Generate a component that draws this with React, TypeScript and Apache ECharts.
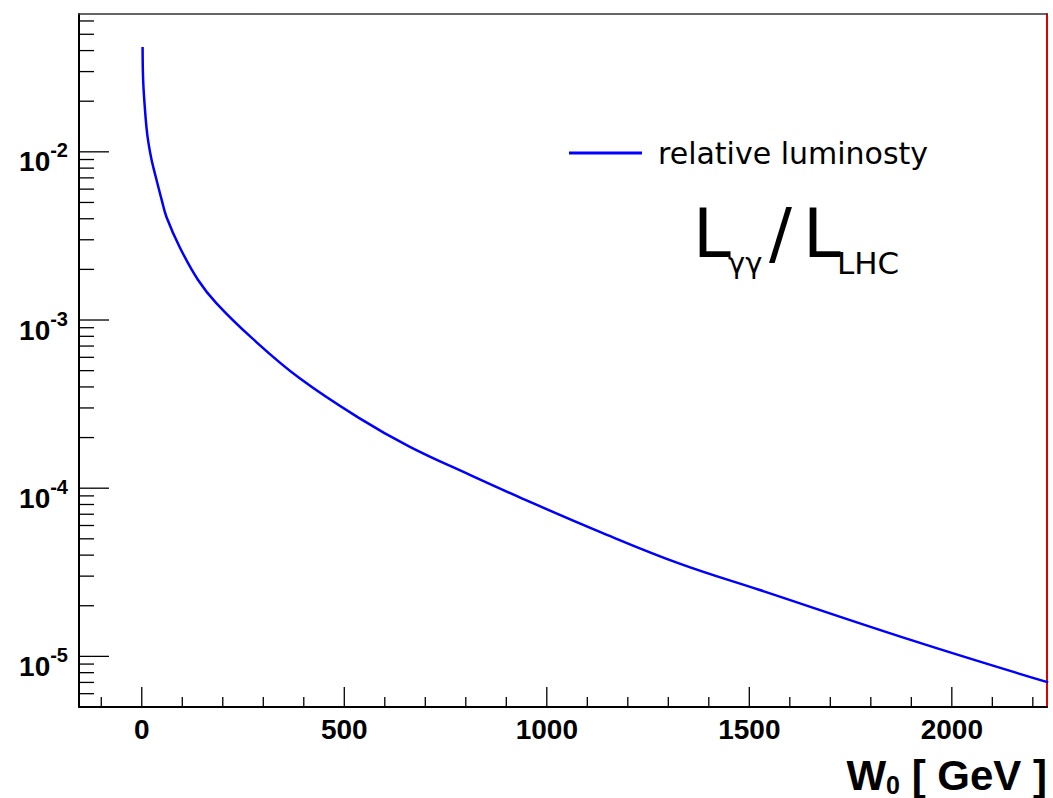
import React, { useEffect, useRef } from 'react';
import * as echarts from 'echarts';

// ---- data ----
const W0 = [2, 3.3, 7.4, 11.6, 16, 24, 32, 49, 61, 94, 139, 184, 271, 390, 538, 662, 810, 941, 1131, 1328, 1526, 1904, 2238];
const LUMI = [4.2e-2, 2.7e-2, 1.85e-2, 1.4e-2, 1.15e-2, 9.0e-3, 7.5e-3, 5.2e-3, 4.1e-3, 2.7e-3, 1.73e-3, 1.26e-3, 7.85e-4, 4.5e-4, 2.6e-4, 1.76e-4, 1.2e-4, 8.65e-5, 5.5e-5, 3.56e-5, 2.48e-5, 1.24e-5, 7.0e-6];
const SERIES_NAME = 'relative luminosty';

const X_MIN = -155;
const X_MAX = 2235;
const Y_MIN = 5e-6;
const Y_MAX = 0.066;

const X_MAJOR = [0, 500, 1000, 1500, 2000];
const X_MINOR = [-100, 100, 200, 300, 400, 600, 700, 800, 900, 1100, 1200, 1300, 1400, 1600, 1700, 1800, 1900, 2100, 2200];
const Y_MAJOR = [1e-5, 1e-4, 1e-3, 1e-2];
const Y_MINOR = [
  6e-6, 7e-6, 8e-6, 9e-6,
  2e-5, 3e-5, 4e-5, 5e-5, 6e-5, 7e-5, 8e-5, 9e-5,
  2e-4, 3e-4, 4e-4, 5e-4, 6e-4, 7e-4, 8e-4, 9e-4,
  2e-3, 3e-3, 4e-3, 5e-3, 6e-3, 7e-3, 8e-3, 9e-3,
  2e-2, 3e-2, 4e-2, 5e-2, 6e-2,
];

const LABEL_FONT = 'Liberation Sans, Arial, Helvetica, sans-serif';
const TEXT_FONT = 'DejaVu Sans, sans-serif';

function tickSeries(values: number[], axis: 'x' | 'y', len: number) {
  return {
    type: 'custom',
    silent: true,
    clip: false,
    z: 5,
    data: values.map((v) => (axis === 'x' ? [v, Y_MIN] : [X_MIN, v])),
    renderItem: (_params: any, api: any) => {
      const p = api.coord([api.value(0), api.value(1)]);
      const shape =
        axis === 'x'
          ? { x1: p[0], y1: p[1], x2: p[0], y2: p[1] - len }
          : { x1: p[0], y1: p[1], x2: p[0] + len, y2: p[1] };
      return { type: 'line', shape, style: { stroke: '#000', lineWidth: 1.3 } };
    },
  };
}

export default function App() {
  const ref = useRef<HTMLDivElement>(null);

  useEffect(() => {
    document.body.style.margin = '0';
    const chart = echarts.init(ref.current!, null, { renderer: 'svg' });

    const option: any = {
      animation: false,
      backgroundColor: '#ffffff',
      grid: { left: 79, right: 6, top: 14, bottom: 91, outerBoundsMode: 'none' },
      legend: {
        data: [SERIES_NAME],
        left: 569,
        top: 138,
        padding: 0,
        icon: 'rect',
        itemWidth: 73,
        itemHeight: 3,
        formatter: '{g| }{name}',
        textStyle: {
          fontFamily: TEXT_FONT,
          fontSize: 30,
          color: '#000',
          rich: { g: { width: 11, fontSize: 30 } },
        },
      },
      xAxis: [
        {
          type: 'value',
          min: X_MIN,
          max: X_MAX,
          position: 'bottom',
          axisLine: { show: true, onZero: false, lineStyle: { color: '#000', width: 2 } },
          axisTick: { show: false },
          splitLine: { show: false },
          axisLabel: {
            formatter: (v: number) => (X_MAJOR.indexOf(v) >= 0 ? String(v) : ''),
            fontSize: 28,
            fontWeight: 'bold',
            fontFamily: LABEL_FONT,
            color: '#000',
            margin: 8,
          },
          name: '{w|W}{s|0}{w| [ GeV ]}',
          nameLocation: 'end',
          nameGap: 0,
          nameTextStyle: {
            align: 'right',
            verticalAlign: 'top',
            padding: [46, 0, 0, 0],
            rich: {
              w: { fontSize: 42, fontWeight: 'bold', fontFamily: LABEL_FONT, color: '#000', lineHeight: 44 },
              s: { fontSize: 25, fontWeight: 'bold', fontFamily: LABEL_FONT, color: '#000', lineHeight: 25, verticalAlign: 'bottom' },
            },
          },
        },
        {
          type: 'value',
          min: X_MIN,
          max: X_MAX,
          position: 'top',
          axisLine: { show: true, onZero: false, lineStyle: { color: '#333', width: 1.5 } },
          axisTick: { show: false },
          axisLabel: { show: false },
          splitLine: { show: false },
        },
      ],
      yAxis: [
        {
          type: 'log',
          logBase: 10,
          min: Y_MIN,
          max: Y_MAX,
          position: 'left',
          axisLine: { show: true, onZero: false, lineStyle: { color: '#000', width: 2 } },
          axisTick: { show: false },
          splitLine: { show: false },
          axisLabel: {
            margin: 11,
            padding: [20, 0, 0, 0],
            formatter: (v: number) => {
              const e = Math.log10(v);
              const r = Math.round(e);
              if (Math.abs(e - r) > 1e-6) return '';
              return '{b|10}{s|' + r + '}';
            },
            rich: {
              b: { fontSize: 28, fontWeight: 'bold', fontFamily: LABEL_FONT, color: '#000', lineHeight: 43 },
              s: { fontSize: 20, fontWeight: 'bold', fontFamily: LABEL_FONT, color: '#000', lineHeight: 20, verticalAlign: 'top' },
            },
          },
        },
        {
          type: 'log',
          logBase: 10,
          min: Y_MIN,
          max: Y_MAX,
          position: 'right',
          axisLine: { show: true, onZero: false, lineStyle: { color: '#e00000', width: 2 } },
          axisTick: { show: false },
          axisLabel: { show: false },
          splitLine: { show: false },
        },
      ],
      graphic: [
        { type: 'text', x: 693, y: 233, style: { text: 'L', fontSize: 68, fontFamily: TEXT_FONT, fill: '#000', align: 'left', verticalAlign: 'middle' } },
        { type: 'text', x: 728, y: 263, style: { text: 'γγ', fontSize: 29, fontFamily: TEXT_FONT, fill: '#000', align: 'left', verticalAlign: 'middle' } },
        { type: 'text', x: 769, y: 233, style: { text: '/', fontSize: 68, fontFamily: TEXT_FONT, fill: '#000', align: 'left', verticalAlign: 'middle' } },
        { type: 'text', x: 803, y: 233, style: { text: 'L', fontSize: 68, fontFamily: TEXT_FONT, fill: '#000', align: 'left', verticalAlign: 'middle' } },
        { type: 'text', x: 837, y: 263, style: { text: 'LHC', fontSize: 31, fontFamily: TEXT_FONT, fill: '#000', align: 'left', verticalAlign: 'middle' } },
      ],
      series: [
        {
          type: 'line',
          name: SERIES_NAME,
          data: W0.map((w, i) => [w, LUMI[i]]),
          symbol: 'none',
          showSymbol: false,
          smooth: 0.4,
          lineStyle: { color: '#0000ff', width: 2.5 },
          itemStyle: { color: '#0000ff' },
          z: 3,
        },
        tickSeries(X_MAJOR, 'x', 20),
        tickSeries(X_MINOR, 'x', 10),
        tickSeries(Y_MAJOR, 'y', 30),
        tickSeries(Y_MINOR, 'y', 15),
      ],
    };

    chart.setOption(option);
    return () => chart.dispose();
  }, []);

  return <div ref={ref} style={{ width: 1053, height: 798 }} />;
}
